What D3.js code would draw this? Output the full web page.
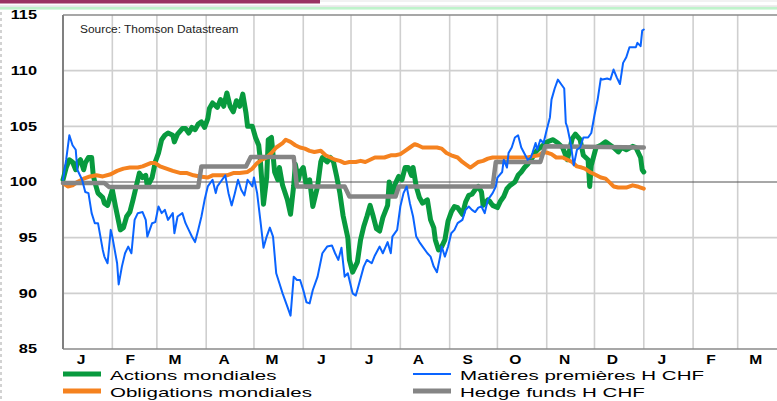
<!DOCTYPE html>
<html><head><meta charset="utf-8">
<script src="https://cdn.jsdelivr.net/npm/d3@7"></script>
<style>
body{margin:0;background:#fff;}
svg{display:block;font-family:Arial,"Liberation Sans",sans-serif;}
</style>
</head><body>
<svg id="c" width="777" height="401"></svg>
<script>
// ---------- DATA ----------
const startYear = 2010;
const monthLabels = ["J","F","M","A","M","J","J","A","S","O","N","D","J","F","M"];
const yTicks = [85,90,95,100,105,110,115];
const sourceText = "Source: Thomson Datastream";
const seriesNames = ["Actions mondiales","Obligations mondiales","Matières premières H CHF","Hedge funds H CHF"];

// day offsets from 1 January and index values
const actDays = [0,2,4,6,8,9,11,13,14,16,18,19,20,22,25,26,28,30,31,33,35,36,38,40,42,44,47,48,50,52,53,56,58,60,62,64,66,69,70,72,75,77,79,81,83,85,87,89,91,92,94,97,99,101,103,105,107,109,111,113,115,116,119,121,123,124,126,128,129,131,133,135,136,138,141,143,145,146,148,149,151,153,155,157,160,162,163,166,168,170,172,174,176,179,180,182,185,187,189,191,193,195,197,199,201,204,205,207,209,211,213,215,217,219,220,222,224,226,229,231,233,234,236,238,240,242,244,246,248,251,253,255,257,259,261,263,264,267,268,270,273,275,277,279,281,284,286,288,290,292,295,297,299,301,303,306,308,311,314,317,320,322,325,327,330,331,332,335,338,341,344,346,349,351,354,358,360,363,364,365];
const actVals = [100.2,101.3,102.0,101.8,101.1,101.7,102.0,101.1,101.7,102.2,102.2,100.6,100.0,99.0,98.6,98.1,97.9,98.8,99.3,97.8,96.4,95.7,95.9,96.9,97.3,98.4,100.2,100.8,100.4,100.6,99.6,100.4,101.8,102.6,103.8,104.2,104.4,104.2,103.6,104.3,104.8,104.8,104.4,104.9,104.7,105.2,105.4,104.9,105.7,106.6,107.1,106.7,107.4,106.8,108.0,106.8,106.3,107.3,106.8,107.9,106.2,105.0,105.0,104.0,103.3,102.0,98.0,100.4,103.8,104.0,100.9,100.2,101.3,99.7,98.4,97.1,99.7,101.6,100.2,100.9,101.3,99.6,100.2,97.8,99.6,101.8,102.2,101.8,102.2,101.8,100.5,99.0,97.0,95.0,93.0,91.9,92.8,94.8,96.0,96.9,97.9,96.9,95.8,95.6,96.8,97.9,100.0,99.0,99.9,100.5,100.2,101.3,101.3,100.6,101.3,99.6,98.6,98.1,98.4,96.6,95.9,94.8,93.9,94.2,94.8,96.5,97.3,97.8,97.7,97.1,98.2,98.8,98.9,99.3,99.6,99.1,97.9,98.4,98.3,97.9,97.7,98.3,98.7,99.4,99.7,100.0,100.6,100.9,101.3,101.6,102.2,102.7,103.0,103.2,103.5,103.7,103.8,103.5,103.1,102.0,103.9,104.3,103.8,102.4,102.0,99.6,101.5,103.1,103.3,103.6,103.3,103.1,102.7,103.1,102.9,103.2,103.1,102.2,101.1,100.9];

const oblDays = [0,3,6,9,13,17,21,25,30,34,38,42,47,50,55,58,61,65,69,74,78,82,86,91,94,99,103,107,111,116,119,122,125,128,131,134,138,140,143,146,149,152,155,158,162,165,168,171,174,177,180,184,187,190,193,196,199,202,206,209,212,215,218,221,223,226,229,233,235,238,241,244,248,251,254,256,258,261,264,267,270,275,279,283,287,292,295,299,302,305,307,310,314,317,320,323,326,328,331,334,338,341,344,346,349,351,354,358,361,363,365];
const oblVals = [99.9,99.6,99.7,100.0,100.3,100.5,100.6,100.5,100.7,101.0,101.2,101.3,101.3,101.4,101.7,101.7,101.4,101.2,101.0,100.8,100.8,100.6,100.5,100.4,100.6,100.6,100.6,100.8,100.8,100.9,101.2,101.7,102.0,102.2,102.6,103.1,103.5,103.8,103.6,103.3,103.1,103.0,102.8,102.7,102.8,102.4,102.2,102.0,101.9,101.7,101.8,101.8,101.9,101.8,102.0,102.2,102.2,102.2,102.4,102.4,102.5,102.8,103.1,103.4,103.3,103.1,103.1,103.1,103.1,103.0,102.6,102.4,102.2,101.8,101.5,101.3,101.5,101.8,101.9,102.1,102.2,102.2,102.2,102.2,102.2,102.2,102.3,102.4,102.7,102.6,102.5,102.2,102.2,102.0,101.8,101.4,101.3,101.2,100.9,100.7,100.4,100.3,99.9,99.6,99.5,99.5,99.5,99.7,99.6,99.5,99.4];

const matDays = [0,2,4,6,8,9,12,14,16,18,20,22,25,26,28,30,31,34,35,37,39,41,43,45,47,50,52,53,56,58,60,62,64,66,69,70,72,75,77,79,81,83,85,87,89,91,94,96,97,100,102,104,106,108,110,112,114,116,119,120,122,124,126,128,130,132,134,136,138,141,143,145,147,149,151,153,155,157,160,163,166,169,171,173,175,177,179,182,184,185,189,191,194,196,199,201,204,206,207,210,212,214,216,218,220,222,224,226,229,231,233,235,237,238,240,242,244,246,248,251,253,255,257,259,261,263,265,267,270,272,273,276,277,279,280,282,284,286,288,292,294,295,297,298,300,302,304,306,307,309,311,314,315,316,317,319,321,323,325,327,330,332,334,336,338,339,342,344,346,348,350,352,354,356,360,361,363,364,365];
const matVals = [100.2,102.0,104.2,103.3,102.9,101.1,100.2,99.1,99.0,97.2,96.3,96.3,93.9,93.3,92.7,95.7,95.1,92.7,90.8,92.4,93.6,94.2,93.6,96.6,97.2,97.3,96.6,95.1,96.3,96.4,97.8,97.2,97.5,96.6,97.2,95.4,96.9,97.2,96.3,95.7,95.1,94.6,95.7,96.9,98.4,99.6,100.2,99.0,99.6,100.2,100.6,99.0,97.9,99.0,100.2,99.3,98.8,100.2,99.6,100.4,99.0,96.6,94.1,95.1,95.9,95.1,91.8,90.9,90.0,88.8,88.0,91.5,91.2,91.2,90.3,89.2,89.1,90.3,91.5,93.6,94.2,94.3,93.6,93.0,94.1,91.5,91.8,90.0,89.8,90.3,92.4,93.0,92.7,93.4,94.2,93.6,94.6,93.6,95.1,95.7,97.8,99.0,99.6,98.1,96.9,95.1,94.6,94.2,93.6,93.3,92.4,91.9,93.3,94.2,93.3,94.2,95.4,95.7,96.3,96.6,97.5,97.8,97.5,97.3,97.7,97.8,97.2,98.4,99.0,99.6,100.4,100.9,102.0,101.3,102.6,103.1,104.0,104.2,103.1,102.0,102.2,102.6,103.5,102.9,103.8,103.5,104.7,105.8,107.4,108.4,109.2,108.6,108.4,105.3,104.9,103.5,101.5,102.9,103.1,104.0,104.0,104.4,106.0,107.4,109.3,109.2,109.3,109.2,110.1,109.4,108.8,110.7,111.2,112.1,112.1,112.5,112.2,113.6,113.7];

const hfDays = [0,26,29,85,87,115,118,145,147,177,180,209,211,270,272,300,303,365];
const hfVals = [99.9,99.9,99.55,99.55,101.4,101.4,102.25,102.25,99.6,99.6,98.7,98.7,99.6,99.6,101.8,101.8,103.2,103.1];

// ---------- CHART ----------
const svg = d3.select("#c");
const W = 777, H = 401;
const M = {left:63, top:15, bottom:349, right:787};
const t0 = new Date(startYear,0,1);
const x = d3.scaleTime().domain([t0, new Date(startYear+1,3,1)]).range([M.left, M.right]);
const y = d3.scaleLinear().domain([85,115]).range([M.bottom, M.top]);
const toPts = (days, vals) => days.map((d,i)=>({date:d3.timeDay.offset(t0,d), v:vals[i]}));

function stretch(sel, sx){
  sel.each(function(){
    const w = this.getComputedTextLength();
    d3.select(this).attr("textLength", w*sx).attr("lengthAdjust","spacingAndGlyphs");
  });
}

// top decoration
svg.append("rect").attr("x",0).attr("y",0).attr("width",W).attr("height",2).attr("fill","#f2f2f2");
svg.append("rect").attr("x",0).attr("y",0).attr("width",320).attr("height",3.5).attr("fill","#9a3463");
svg.append("rect").attr("x",0).attr("y",5.5).attr("width",W).attr("height",1.2).attr("fill","#dedede");
svg.append("rect").attr("x",0).attr("y",7).attr("width",W).attr("height",2.6).attr("fill","#bff3cb");
svg.append("line").attr("x1",1).attr("x2",1).attr("y1",12).attr("y2",H)
  .attr("stroke","#c4c4c4").attr("stroke-width",1.5).attr("stroke-dasharray","3,3");

// grid
const monthTicks = d3.timeMonth.range(t0, new Date(startYear+1,3,2));
svg.append("g").selectAll("line").data(monthTicks.slice(1)).join("line")
  .attr("x1",d=>x(d)).attr("x2",d=>x(d)).attr("y1",M.top).attr("y2",M.bottom)
  .attr("stroke","#cfcfcf").attr("stroke-width",1.6);
svg.append("g").selectAll("line").data(yTicks.filter(v=>v!==85 && v!==115 && v!==100)).join("line")
  .attr("x1",M.left).attr("x2",W).attr("y1",d=>y(d)).attr("y2",d=>y(d))
  .attr("stroke","#cfcfcf").attr("stroke-width",1.6);
svg.append("line").attr("x1",M.left).attr("x2",W).attr("y1",y(100)).attr("y2",y(100))
  .attr("stroke","#505050").attr("stroke-width",1);
// frame
svg.append("line").attr("x1",M.left).attr("x2",W).attr("y1",M.top).attr("y2",M.top)
  .attr("stroke","#8a8a8a").attr("stroke-width",1.6);
svg.append("line").attr("x1",M.left).attr("x2",W).attr("y1",M.bottom).attr("y2",M.bottom)
  .attr("stroke","#8a8a8a").attr("stroke-width",1.6);
svg.append("line").attr("x1",M.left).attr("x2",M.left).attr("y1",M.top).attr("y2",M.bottom)
  .attr("stroke","#808080").attr("stroke-width",2);

// axes
const yAxis = svg.append("g").attr("transform",`translate(${M.left},0)`)
  .call(d3.axisLeft(y).tickValues(yTicks).tickSize(0).tickPadding(26).tickFormat(d3.format("d")));
yAxis.select(".domain").remove();
yAxis.selectAll("text").attr("font-size",12).attr("font-weight","bold").attr("fill","#000")
  .attr("font-family","Arial, 'Liberation Sans', sans-serif").call(stretch,1.36);

const xAxis = svg.append("g").attr("transform",`translate(0,${M.bottom})`)
  .call(d3.axisBottom(x).tickValues(monthLabels.map((m,i)=>new Date(startYear,i,12)))
    .tickSize(0).tickPadding(6.5).tickFormat((d,i)=>monthLabels[i]));
xAxis.select(".domain").remove();
xAxis.selectAll("text").attr("font-size",12).attr("font-weight","bold").attr("fill","#000")
  .attr("font-family","Arial, 'Liberation Sans', sans-serif").call(stretch,1.3);

// source
svg.append("text").attr("x",80).attr("y",33).attr("font-size",10).attr("fill","#222")
  .text(sourceText).call(stretch,1.19);

// series
const line = d3.line().x(d=>x(d.date)).y(d=>y(d.v));
const series = [
  {pts:toPts(actDays,actVals), color:"#089a3e", w:5},
  {pts:toPts(oblDays,oblVals), color:"#f5821f", w:4},
  {pts:toPts(hfDays,hfVals), color:"#858585", w:4.5},
  {pts:toPts(matDays,matVals), color:"#0a64ff", w:2}
];
svg.append("g").selectAll("path").data(series).join("path")
  .attr("d",d=>line(d.pts)).attr("fill","none").attr("stroke",d=>d.color)
  .attr("stroke-width",d=>d.w).attr("stroke-linejoin","round").attr("stroke-linecap","round");

// legend
const legend = [
  {name:seriesNames[0], color:"#089a3e", w:5, x:63, y:374},
  {name:seriesNames[1], color:"#f5821f", w:5, x:63, y:391},
  {name:seriesNames[2], color:"#0a64ff", w:2, x:413, y:374},
  {name:seriesNames[3], color:"#858585", w:5, x:413, y:391}
];
const lg = svg.append("g").selectAll("g").data(legend).join("g");
lg.append("line").attr("x1",d=>d.x).attr("x2",d=>d.x+38).attr("y1",d=>d.y).attr("y2",d=>d.y)
  .attr("stroke",d=>d.color).attr("stroke-width",d=>d.w);
lg.append("text").attr("x",d=>d.x+47).attr("y",d=>d.y+5.5).attr("font-size",13.5).attr("fill","#000")
  .text(d=>d.name).call(stretch,1.52);
</script>
</body></html>
